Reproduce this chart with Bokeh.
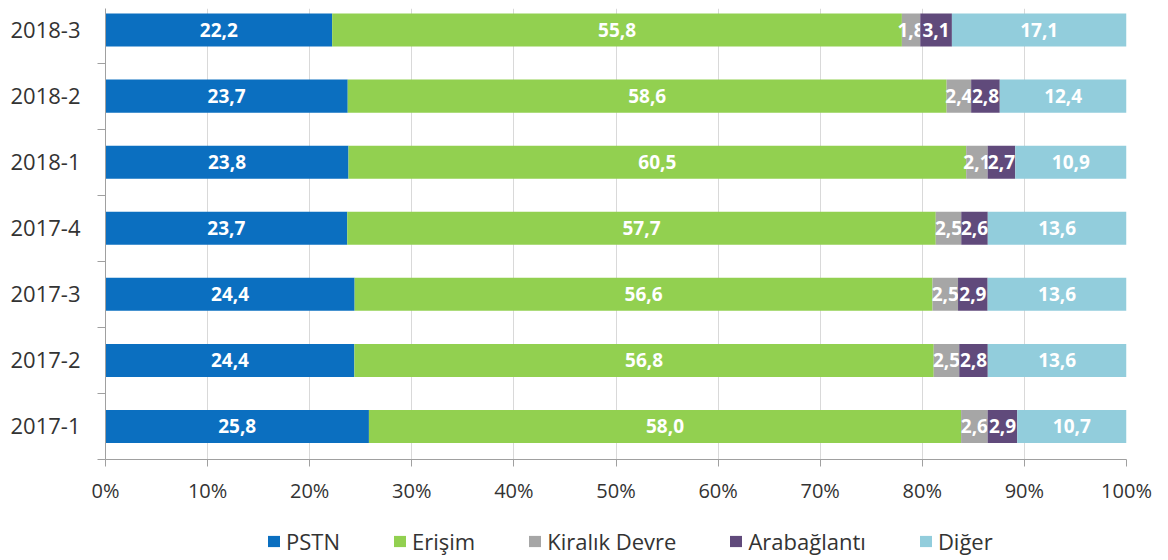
from bokeh.plotting import figure
from bokeh.layouts import column
from bokeh.models import Range1d, FixedTicker, NumeralTickFormatter, Legend, LegendItem, ColumnDataSource
from bokeh.core.properties import value
from bokeh.embed import file_html
from bokeh.resources import INLINE

categories = ["2017-1", "2017-2", "2017-3", "2017-4", "2018-1", "2018-2", "2018-3"]
series_names = ["PSTN", "Erişim", "Kiralık Devre", "Arabağlantı", "Diğer"]
pstn = [25.8, 24.4, 24.4, 23.7, 23.8, 23.7, 22.2]
erisim = [58.0, 56.8, 56.6, 57.7, 60.5, 58.6, 55.8]
kiralik = [2.6, 2.5, 2.5, 2.5, 2.1, 2.4, 1.8]
arabaglanti = [2.9, 2.8, 2.9, 2.6, 2.7, 2.8, 3.1]
diger = [10.7, 13.6, 13.6, 13.6, 10.9, 12.4, 17.1]
colors = ["#0B6FC0", "#92D050", "#A6A6A6", "#604A7B", "#92CDDC"]

series = [pstn, erisim, kiralik, arabaglanti, diger]
FONT = "Open Sans"

p = figure(width=1156, height=510, output_backend="svg", toolbar_location=None,
           x_range=Range1d(0, 1), y_range=Range1d(-0.5, 6.326),
           min_border_left=105, min_border_right=30, min_border_top=8, min_border_bottom=51)
p.outline_line_color = None
p.background_fill_color = "white"

# legend-only strip below the chart (its y range keeps the bars out of view)
p2 = figure(width=1156, height=50, output_backend="svg", toolbar_location=None,
            x_range=Range1d(0, 1), y_range=Range1d(100, 101),
            x_axis_location=None, y_axis_location=None,
            min_border_left=0, min_border_right=0, min_border_top=0, min_border_bottom=0)
p2.outline_line_color = None
p2.xgrid.grid_line_color = None
p2.ygrid.grid_line_color = None

ys = list(range(len(categories)))
totals = [sum(s[i] for s in series) for i in ys]
left = [0.0] * len(ys)
items = []
for name, vals, col in zip(series_names, series, colors):
    frac = [v / t for v, t in zip(vals, totals)]
    right = [l + f for l, f in zip(left, frac)]
    src = ColumnDataSource(dict(y=ys, left=left, right=right,
                                mid=[(l + r) / 2 for l, r in zip(left, right)],
                                lab=[f"{v:.1f}".replace(".", ",") for v in vals]))
    p.hbar(y="y", left="left", right="right", height=0.5, source=src,
           fill_color=col, line_color=None)
    p.text(x="mid", y="y", text="lab", source=src, text_color="white",
           text_font=value(FONT), text_font_style="bold", text_font_size="19px",
           text_align="center", text_baseline="middle")
    r2 = p2.hbar(y="y", left="left", right="right", height=0.5, source=src,
                 fill_color=col, line_color=None)
    items.append(LegendItem(label=name, renderers=[r2]))
    left = right

# x axis
xa = p.xaxis[0]
xa.ticker = FixedTicker(ticks=[i / 10 for i in range(11)])
xa.formatter = NumeralTickFormatter(format="0%")
xa.axis_line_color = "#A0A0A0"
xa.major_tick_line_color = "#A0A0A0"
xa.major_tick_out = 7
xa.major_tick_in = 0
xa.minor_tick_line_color = None
xa.major_label_standoff = 10
xa.major_label_text_font = FONT
xa.major_label_text_font_size = "20px"
xa.major_label_text_color = "#333333"

# y axis
ya = p.yaxis[0]
ya.ticker = FixedTicker(ticks=ys, minor_ticks=[i - 0.5 for i in ys] + [len(ys) - 0.5])
ya.major_label_overrides = {i: c for i, c in zip(ys, categories)}
ya.axis_line_color = "#A0A0A0"
ya.major_tick_line_color = None
ya.major_tick_out = 0
ya.major_tick_in = 0
ya.minor_tick_line_color = "#A0A0A0"
ya.minor_tick_out = 8
ya.minor_tick_in = 0
ya.major_label_standoff = 17
ya.major_label_text_font = FONT
ya.major_label_text_font_size = "22px"
ya.major_label_text_color = "#333333"

p.xgrid.ticker = FixedTicker(ticks=[i / 10 for i in range(11)])
p.xgrid.grid_line_color = "#D9D9D9"
p.ygrid.grid_line_color = None

legend = Legend(items=items, orientation="horizontal", location=(161, 4),
                glyph_width=15, glyph_height=14, label_standoff=5, spacing=52,
                padding=0, margin=0, border_line_color=None, background_fill_alpha=0,
                label_text_font=FONT, label_text_font_size="22px", label_text_color="#333333")
p2.add_layout(legend, "center")

layout = column(p, p2, spacing=0)
open("out.html", "w").write(file_html(layout, INLINE))
